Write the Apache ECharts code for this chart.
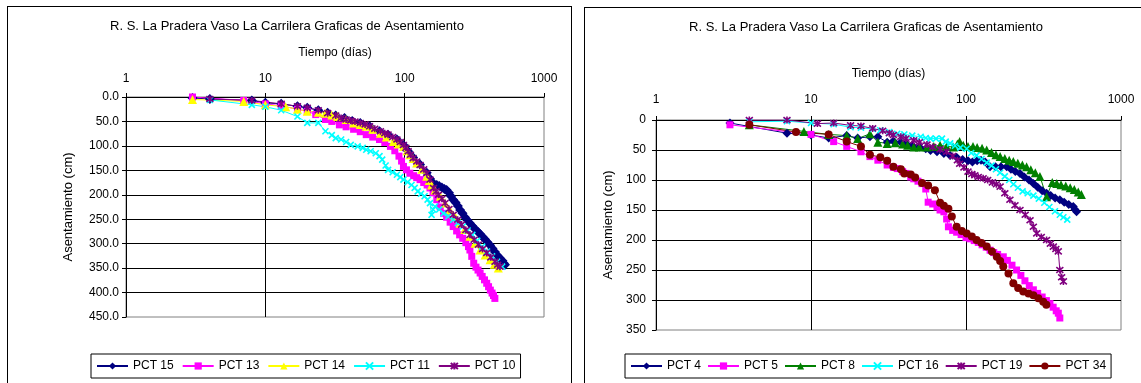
<!DOCTYPE html>
<html>
<head>
<meta charset="utf-8">
<script src="https://cdn.jsdelivr.net/npm/echarts@6/dist/echarts.min.js"></script>
<style>
  body { margin: 0; background: #fff; overflow: hidden; }
  .frame { position: absolute; border: 1px solid #000; box-sizing: border-box; }
  .chart { position: absolute; top: 0; height: 383px; }
</style>
</head>
<body>
<div class="frame" style="left:7px;top:6px;width:565px;height:420px;"></div>
<div class="frame" style="left:584px;top:7px;width:600px;height:420px;"></div>
<div class="chart" id="c1" style="left:0;width:578px;"></div>
<div class="chart" id="c2" style="left:578px;width:563px;"></div>
<script>
// textos
const titulo = 'R. S. La Pradera Vaso La Carrilera Graficas de Asentamiento';
const ejeX = 'Tiempo (días)';
const ejeY = 'Asentamiento (cm)';

// grafica izquierda: [dias, asentamiento cm]
const pct15 = [[3,2],[4,4],[8,7],[10,12],[13,14],[17,19],[20,22],[24,27],[28,32],[32,38],[37,43],[42,49],[48,53],[56,60],[66,70],[76,77],[88,87],[98,98],[106,111],[115,124],[129,138],[144,155],[152,167],[160,176],[170,180],[177,182],[185,185],[193,188],[200,190],[208,196],[215,203],[223,210],[232,216],[241,223],[250,231],[260,238],[271,246],[282,252],[294,258],[306,264],[320,270],[334,275],[348,280],[362,286],[377,291],[393,297],[410,303],[427,310],[445,317],[464,324],[483,330],[503,335],[515,340],[525,343]];
const pct13 = [[3,0],[7,7],[10,14],[13,18],[17,25],[20,29],[23,36],[27,46],[30,50],[34,57],[38,61],[43,66],[48,71],[53,77],[59,82],[66,87],[72,93],[79,101],[85,110],[91,121],[95,131],[98,142],[103,149],[109,156],[116,161],[122,165],[129,169],[137,175],[145,180],[152,186],[160,196],[170,210],[180,225],[190,238],[200,246],[212,256],[223,265],[236,274],[248,282],[261,289],[275,298],[287,306],[294,313],[303,326],[313,340],[325,348],[336,354],[348,360],[360,367],[374,374],[388,381],[400,388],[412,395],[424,401],[434,406],[444,412]];
const pct14 = [[3,5],[7,9],[10,16],[14,20],[17,25],[20,29],[24,31],[27,33],[30,37],[33,40],[38,46],[43,53],[48,56],[53,60],[59,66],[67,74],[74,82],[83,91],[90,96],[98,101],[104,110],[109,118],[115,126],[122,135],[133,148],[144,162],[150,171],[156,180],[165,190],[180,203],[195,217],[211,231],[230,244],[250,258],[270,271],[294,285],[320,299],[348,313],[378,323],[410,333],[440,342],[470,350]];
const pct11 = [[4,6],[8,16],[10,20],[13,27],[17,40],[20,53],[24,53],[27,70],[30,78],[32,84],[35,87],[38,92],[41,98],[46,101],[50,104],[53,108],[57,111],[62,115],[66,121],[69,128],[73,140],[76,149],[82,154],[88,159],[93,164],[98,169],[105,174],[112,180],[118,186],[124,193],[131,198],[139,203],[146,210],[152,217],[156,241],[160,230],[165,224],[177,230],[190,238],[206,244],[223,251],[241,258],[261,265],[283,273],[306,282],[332,294],[360,306],[390,316],[424,326],[460,337],[500,347]];
const pct10 = [[4,4],[8,7],[13,14],[17,19],[20,22],[24,27],[28,33],[32,38],[35,43],[38,46],[41,48],[44,50],[48,53],[52,56],[56,60],[61,65],[67,70],[72,74],[76,77],[82,82],[88,87],[93,92],[98,98],[102,104],[106,111],[110,118],[115,125],[122,132],[129,139],[137,148],[144,156],[152,169],[161,186],[168,193],[175,200],[185,208],[195,217],[208,229],[223,241],[240,251],[256,261],[275,272],[294,282],[315,292],[338,302],[362,311],[388,319],[415,328],[445,337],[465,343],[483,347]];

// grafica derecha
const pct4 = [[3,5],[7,22],[10,25],[13,30],[17,26],[20,30],[24,28],[27,28],[31,37],[34,35],[38,37],[41,39],[45,42],[50,45],[55,48],[59,51],[65,53],[72,56],[79,59],[87,62],[95,66],[103,68],[110,70],[118,68],[125,67],[133,70],[143,78],[155,78],[168,78],[183,78],[195,82],[208,86],[223,89],[238,95],[255,100],[272,106],[290,112],[310,118],[331,122],[352,126],[376,130],[403,133],[430,137],[460,141],[492,144],[505,149],[517,153]];
const pct5 = [[3,8],[10,24],[14,36],[17,44],[21,53],[24,61],[27,67],[31,75],[34,79],[36,81],[39,86],[41,89],[44,95],[46,98],[49,102],[52,106],[55,115],[57,137],[61,140],[65,145],[68,150],[72,153],[75,165],[77,178],[82,184],[87,187],[93,191],[100,196],[106,198],[113,201],[120,204],[127,208],[135,212],[143,217],[151,221],[160,224],[174,228],[185,234],[198,242],[212,250],[226,259],[240,268],[256,276],[272,283],[290,289],[310,295],[330,301],[348,306],[365,312],[382,318],[394,322],[403,330]];
const pct8 = [[4,8],[9,19],[13,24],[17,26],[20,31],[24,23],[27,37],[31,39],[35,38],[39,40],[42,42],[46,45],[50,45],[56,45],[62,44],[68,42],[75,44],[83,45],[88,40],[91,36],[96,42],[103,44],[111,44],[118,46],[127,47],[136,50],[146,54],[156,58],[166,61],[178,64],[190,67],[202,69],[216,72],[231,75],[246,78],[262,83],[280,88],[300,94],[331,128],[360,104],[385,106],[410,108],[440,110],[470,113],[500,116],[530,120],[555,124]];
const pct16 = [[4,3],[7,2],[10,5],[14,7],[18,12],[21,13],[25,15],[28,17],[32,20],[36,23],[40,24],[45,26],[51,28],[55,30],[59,31],[64,31],[70,31],[74,36],[79,39],[85,43],[92,46],[101,48],[108,55],[117,59],[126,65],[136,71],[146,76],[156,82],[166,88],[178,94],[190,100],[202,107],[216,113],[232,119],[250,122],[272,126],[295,131],[320,138],[345,145],[375,152],[403,158],[425,162],[450,166]];
const pct19 = [[4,0],[7,0],[11,6],[14,5],[18,9],[21,10],[25,14],[29,18],[32,22],[34,25],[38,28],[41,31],[46,34],[50,37],[56,41],[61,45],[68,49],[75,53],[82,60],[88,67],[91,73],[97,79],[103,86],[109,90],[114,92],[120,95],[129,97],[138,100],[148,104],[157,107],[166,111],[178,122],[192,133],[207,142],[223,150],[241,158],[259,167],[272,178],[286,189],[306,195],[331,200],[350,206],[366,211],[380,215],[394,219],[403,250],[414,262],[425,269]];
const pct34 = [[4,8],[8,20],[13,24],[17,36],[21,44],[24,58],[28,62],[31,68],[34,78],[38,82],[40,89],[44,91],[47,96],[52,105],[57,109],[63,117],[68,138],[72,143],[77,148],[81,161],[87,178],[94,185],[101,189],[109,194],[117,200],[126,205],[136,211],[147,219],[158,228],[166,235],[174,244],[188,256],[202,272],[217,280],[234,286],[253,289],[272,292],[293,297],[315,303],[330,308]];

const fuente = "'Liberation Sans', Arial, sans-serif";
const cruz = 'path://M0,0L10,10M10,0L0,10';
const estrella = 'path://M0,0L10,10M10,0L0,10M5,-1L5,11';

function serie(name, data, color, symbol, size) {
  const abierto = symbol.indexOf('path://') === 0;
  return {
    name: name,
    type: 'line',
    data: data,
    symbol: symbol,
    symbolSize: size,
    lineStyle: { color: color, width: 1 },
    itemStyle: abierto ? { color: color, borderColor: color, borderWidth: 1.6 } : { color: color, borderWidth: 0 },
    emphasis: { disabled: true }
  };
}

function opciones(cfg) {
  return {
    animation: false,
    graphic: [{
      type: 'text', x: cfg.tx, y: cfg.ty,
      style: { text: titulo, font: '13px ' + fuente, fill: '#000', textAlign: 'center', textVerticalAlign: 'middle' }
    }],
    grid: { left: cfg.grid[0], top: cfg.grid[1], width: cfg.grid[2], height: cfg.grid[3],
      show: true, borderColor: '#808080', borderWidth: 1, backgroundColor: 'transparent' },
    legend: {
      left: cfg.legLeft, top: 354, padding: [6, 5], itemGap: cfg.legGap,
      itemWidth: 31, itemHeight: 9, borderColor: '#000', borderWidth: 1,
      textStyle: { fontSize: 12, color: '#000', fontFamily: fuente },
      data: cfg.series.map(s => s.name)
    },
    xAxis: {
      type: 'log', logBase: 10, min: 1, max: 1000, position: 'top',
      name: ejeX, nameLocation: 'middle', nameGap: cfg.xGap,
      nameTextStyle: { fontSize: 12, color: '#000', fontFamily: fuente },
      axisLine: { lineStyle: { color: '#000' } },
      axisTick: { show: true, length: 4, lineStyle: { color: '#000' } },
      axisLabel: { fontSize: 12, color: '#000', fontFamily: fuente, margin: cfg.xMargin, formatter: v => String(Math.round(v)) },
      minorTick: { show: false },
      splitLine: { show: true, showMinLine: false, showMaxLine: false, lineStyle: { color: '#000' } }
    },
    yAxis: {
      type: 'value', inverse: true, min: 0, max: cfg.ymax, interval: 50,
      name: ejeY, nameLocation: 'middle', nameGap: cfg.yGap,
      nameTextStyle: { fontSize: 13, color: '#000', fontFamily: fuente },
      axisLine: { show: true, lineStyle: { color: '#000' } },
      axisTick: { show: true, length: 4, lineStyle: { color: '#000' } },
      axisLabel: { fontSize: 12, color: '#000', fontFamily: fuente, margin: cfg.yMargin, formatter: cfg.yFmt },
      splitLine: { show: true, showMinLine: false, showMaxLine: false, lineStyle: { color: '#000' } }
    },
    series: cfg.series
  };
}

const izq = echarts.init(document.getElementById('c1'));
izq.setOption(opciones({
  tx: 287, ty: 26,
  grid: [126, 97, 418, 220],
  legLeft: 91, legGap: 8,
  xGap: 38, xMargin: 12, yGap: 51, yMargin: 7, ymax: 450,
  yFmt: v => v.toFixed(1),
  series: [
    serie('PCT 15', pct15, '#000080', 'diamond', 10),
    serie('PCT 13', pct13, '#FF00FF', 'rect', 7),
    serie('PCT 14', pct14, '#FFFF00', 'triangle', 9),
    serie('PCT 11', pct11, '#00FFFF', cruz, 6),
    serie('PCT 10', pct10, '#800080', estrella, 7)
  ]
}));

const der = echarts.init(document.getElementById('c2'));
der.setOption(opciones({
  tx: 288, ty: 27,
  grid: [78, 120, 465, 210],
  legLeft: 47, legGap: 6,
  xGap: 40, xMargin: 14, yGap: 40, yMargin: 10, ymax: 350,
  yFmt: v => String(v),
  series: [
    serie('PCT 4', pct4, '#000080', 'diamond', 9),
    serie('PCT 5', pct5, '#FF00FF', 'rect', 7),
    serie('PCT 8', pct8, '#008000', 'triangle', 9),
    serie('PCT 16', pct16, '#00FFFF', cruz, 6),
    serie('PCT 19', pct19, '#800080', estrella, 7),
    serie('PCT 34', pct34, '#800000', 'circle', 8)
  ]
}));
</script>
</body>
</html>
